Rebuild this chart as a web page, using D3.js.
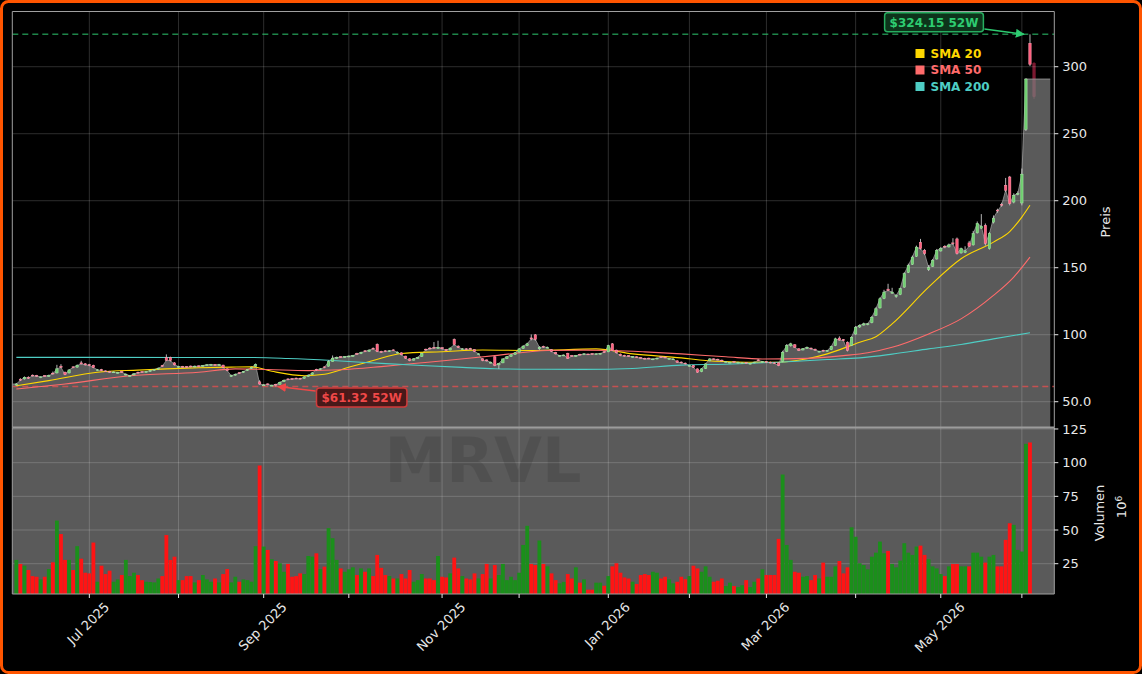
<!DOCTYPE html>
<html>
<head>
<meta charset="utf-8">
<script src="https://cdn.jsdelivr.net/npm/d3@7"></script>
<style>
  html, body { margin: 0; padding: 0; background: #000; }
  svg { display: block; font-family: "DejaVu Sans", sans-serif; }
</style>
</head>
<body>
<svg id="chart" width="1142" height="674"></svg>
<script>
// daily candles, trading-day index 0 = 4 Jun 2025 ... 251 = 4 Jun 2026
const opens = [
  62.4, 66.8, 67.0, 68.3, 69.8, 69.6, 68.0, 69.5, 68.8, 71.3,
  71.5, 76.5, 72.0, 71.5, 76.0, 75.8, 79.0, 78.3, 77.6, 77.2,
  73.4, 74.0, 73.0, 72.6, 71.8, 71.4, 72.5, 70.0, 69.0, 70.0,
  72.0, 72.5, 72.0, 72.6, 73.4, 74.3, 77.0, 83.0, 83.0, 79.0,
  75.8, 76.3, 76.2, 76.6, 76.0, 76.8, 76.4, 77.0, 77.2, 77.8,
  77.1, 77.3, 74.5, 69.0, 69.8, 71.7, 71.8, 73.2, 74.8, 76.5,
  64.8, 62.0, 63.3, 61.8, 63.0, 63.0, 65.0, 67.0, 67.3, 67.6,
  67.5, 67.5, 68.8, 70.2, 74.2, 73.9, 76.0, 76.5, 80.0, 82.3,
  83.6, 83.0, 83.5, 83.9, 86.0, 85.8, 88.0, 87.6, 89.9, 92.8,
  87.6, 88.0, 87.4, 88.7, 86.4, 86.5, 84.0, 82.0, 81.0, 82.2,
  83.8, 89.2, 90.0, 90.6, 89.8, 90.3, 89.0, 88.6, 96.5, 91.5,
  89.0, 89.5, 89.8, 88.8, 85.2, 82.0, 81.2, 79.0, 83.5, 77.5,
  79.0, 82.2, 83.8, 85.3, 87.0, 89.8, 91.8, 97.6, 99.9, 89.5,
  91.3, 90.1, 88.8, 86.8, 84.0, 84.3, 86.1, 84.5, 83.7, 85.4,
  85.1, 85.6, 85.9, 85.2, 85.6, 87.3, 87.2, 93.2, 88.5, 85.5,
  84.6, 84.3, 83.2, 83.5, 83.0, 82.4, 82.5, 81.3, 81.9, 83.6,
  83.3, 81.8, 81.5, 80.5, 79.6, 78.8, 76.5, 77.0, 74.5, 72.5,
  74.8, 80.5, 82.0, 81.7, 81.0, 79.4, 79.0, 80.0, 79.0, 78.6,
  79.2, 78.2, 79.0, 81.2, 79.5, 79.9, 79.5, 79.0, 79.0, 80.0,
  87.5, 91.8, 92.5, 89.5, 88.6, 89.8, 90.0, 89.2, 87.2, 88.4,
  87.6, 88.8, 91.8, 97.5, 96.3, 94.4, 92.0, 100.5, 105.8, 107.2,
  107.5, 109.0, 114.5, 120.0, 127.0, 134.0, 131.0, 128.5, 130.0, 135.5,
  146.5, 152.5, 158.5, 169.0, 163.0, 148.5, 151.0, 156.5, 162.5, 166.0,
  165.5, 168.5, 171.5, 161.0, 161.5, 168.5, 167.0, 176.0, 179.5, 181.6,
  164.2, 184.0, 193.0, 197.2, 211.5, 217.7, 199.0, 204.8, 198.3, 253.2,
  317.5, 302.5
];
const highs = [
  64.0, 67.5, 68.8, 68.9, 70.3, 70.0, 69.0, 69.9, 70.2, 72.5,
  77.5, 78.0, 72.5, 74.2, 76.5, 77.8, 80.5, 78.8, 78.2, 77.6,
  74.3, 74.5, 73.4, 73.0, 72.6, 72.3, 72.9, 71.2, 70.0, 71.2,
  72.4, 72.9, 73.0, 73.6, 74.4, 75.5, 77.5, 85.3, 83.6, 79.5,
  76.8, 76.7, 76.6, 77.0, 76.9, 77.1, 77.4, 78.0, 78.2, 78.1,
  78.2, 77.6, 74.9, 70.2, 71.0, 72.0, 73.0, 74.5, 76.2, 78.5,
  66.0, 63.2, 63.7, 62.8, 63.4, 65.0, 66.5, 67.4, 67.6, 68.0,
  67.9, 69.0, 70.3, 72.0, 74.6, 75.0, 76.4, 81.0, 84.5, 83.6,
  84.0, 84.0, 84.5, 84.9, 86.5, 87.3, 88.5, 89.0, 90.5, 93.5,
  88.0, 88.4, 88.5, 89.0, 87.5, 86.8, 84.3, 82.4, 82.4, 83.5,
  86.5, 89.6, 90.8, 94.5, 95.5, 90.7, 89.4, 90.4, 97.2, 92.0,
  90.0, 89.9, 90.2, 89.1, 86.2, 82.5, 81.5, 80.0, 84.0, 79.0,
  82.3, 84.0, 85.5, 87.0, 89.9, 92.0, 94.0, 100.2, 100.5, 91.5,
  91.8, 91.1, 89.2, 87.2, 84.9, 85.2, 86.5, 84.9, 84.9, 85.8,
  86.1, 85.9, 86.2, 86.0, 86.4, 87.6, 92.5, 93.8, 88.8, 85.9,
  85.0, 84.7, 84.1, 83.9, 83.4, 82.8, 82.9, 82.3, 82.9, 84.0,
  83.7, 82.6, 82.3, 80.9, 80.0, 79.2, 77.5, 77.4, 74.8, 75.0,
  78.7, 82.4, 82.4, 82.1, 81.4, 80.2, 79.8, 80.4, 79.8, 79.4,
  79.6, 79.0, 79.9, 81.6, 80.4, 80.3, 79.9, 79.4, 79.4, 88.0,
  93.0, 94.0, 93.0, 89.9, 90.0, 91.2, 90.4, 89.6, 88.0, 88.8,
  88.6, 91.7, 97.8, 98.8, 96.8, 95.0, 98.8, 106.5, 107.8, 109.0,
  108.8, 114.0, 120.5, 127.8, 133.5, 138.0, 135.0, 130.0, 135.0, 146.5,
  153.0, 159.0, 166.5, 171.5, 164.0, 152.0, 156.5, 164.0, 165.5, 166.8,
  168.0, 172.0, 172.5, 165.0, 166.0, 170.0, 177.5, 184.5, 190.0, 183.0,
  176.5, 189.0, 194.0, 198.5, 217.0, 218.5, 205.5, 207.0, 224.0, 291.5,
  324.15, 303.5
];
const lows = [
  62.0, 65.4, 66.5, 67.0, 68.8, 68.5, 67.6, 68.6, 68.5, 70.2,
  71.0, 75.0, 69.8, 71.0, 75.0, 75.4, 77.8, 77.0, 76.5, 75.0,
  73.0, 72.8, 72.2, 71.6, 71.5, 71.0, 71.6, 69.6, 68.6, 69.7,
  71.0, 71.6, 71.8, 72.3, 73.0, 74.0, 76.0, 80.3, 80.0, 77.0,
  75.4, 75.4, 75.2, 75.6, 75.7, 75.8, 76.1, 76.7, 77.0, 76.8,
  76.8, 75.0, 72.8, 68.5, 69.4, 70.8, 71.5, 72.9, 74.5, 76.2,
  62.6, 61.8, 62.2, 61.6, 61.32, 62.8, 64.8, 66.0, 66.4, 66.8,
  66.6, 67.2, 68.5, 70.0, 73.2, 73.6, 75.0, 76.2, 79.8, 82.0,
  82.6, 82.7, 83.2, 83.6, 85.0, 85.5, 87.0, 87.3, 89.0, 87.0,
  86.5, 87.0, 87.1, 87.8, 86.0, 84.6, 82.0, 80.2, 80.7, 82.0,
  83.5, 88.1, 89.0, 89.6, 89.5, 89.0, 87.8, 88.3, 92.0, 90.0,
  88.7, 88.6, 89.0, 87.0, 84.8, 80.2, 80.0, 78.5, 76.5, 74.5,
  78.7, 81.8, 83.5, 85.0, 86.8, 89.5, 91.5, 95.8, 95.5, 88.5,
  90.3, 89.8, 87.0, 85.3, 83.6, 84.0, 81.9, 83.6, 83.4, 84.6,
  84.8, 84.9, 85.1, 85.0, 85.3, 86.5, 87.0, 87.8, 86.0, 84.0,
  83.6, 83.4, 82.9, 82.6, 82.1, 81.5, 81.6, 81.0, 81.6, 82.7,
  82.4, 81.5, 81.2, 79.0, 78.6, 77.8, 76.1, 75.2, 71.5, 72.0,
  74.5, 80.2, 81.1, 80.8, 80.1, 79.0, 78.6, 79.2, 78.7, 78.3,
  78.4, 77.9, 78.7, 80.3, 79.2, 79.0, 78.6, 78.1, 76.5, 79.5,
  87.0, 91.0, 90.2, 87.8, 88.3, 89.5, 89.0, 88.1, 86.8, 87.4,
  87.3, 88.5, 91.5, 95.6, 95.2, 87.5, 91.5, 100.0, 105.0, 106.8,
  107.0, 108.5, 114.0, 119.5, 126.5, 132.5, 130.5, 127.5, 129.5, 135.0,
  146.0, 152.0, 158.0, 163.5, 159.5, 147.5, 150.5, 156.0, 162.0, 164.5,
  165.0, 167.0, 159.8, 160.5, 160.8, 165.5, 166.5, 175.5, 179.0, 166.5,
  163.5, 183.0, 191.0, 195.5, 206.5, 196.5, 198.0, 204.0, 196.5, 252.0,
  300.5, 276.0
];
const closes = [
  63.2, 66.0, 68.2, 67.5, 69.4, 69.0, 68.5, 69.0, 69.5, 70.7,
  74.5, 75.7, 70.2, 73.7, 75.5, 77.0, 78.2, 77.5, 77.0, 75.5,
  73.8, 73.2, 72.5, 72.0, 72.2, 71.8, 72.0, 70.5, 69.4, 70.8,
  71.5, 72.0, 72.5, 73.2, 74.0, 75.0, 76.5, 80.8, 80.7, 77.5,
  76.2, 75.8, 75.7, 76.0, 76.5, 76.2, 77.0, 77.5, 77.7, 77.2,
  77.7, 75.5, 73.2, 69.4, 70.5, 71.2, 72.5, 74.0, 75.7, 77.7,
  63.2, 62.5, 62.8, 62.2, 62.6, 64.5, 66.0, 66.5, 66.8, 67.2,
  67.0, 68.5, 69.8, 71.5, 73.7, 74.5, 75.5, 80.0, 82.5, 83.1,
  83.0, 83.6, 84.0, 84.4, 85.5, 86.8, 87.4, 88.5, 89.4, 87.5,
  86.9, 87.5, 88.0, 88.2, 86.9, 85.0, 82.5, 80.7, 82.0, 83.1,
  86.0, 88.6, 89.5, 90.0, 90.6, 89.5, 88.2, 90.0, 92.6, 90.5,
  89.4, 89.0, 89.4, 87.5, 85.7, 80.7, 80.5, 79.4, 77.0, 78.5,
  81.9, 83.5, 85.0, 86.5, 89.4, 91.5, 93.2, 96.9, 96.5, 90.6,
  90.8, 90.6, 87.5, 85.7, 84.4, 84.8, 82.4, 84.0, 84.4, 85.0,
  85.7, 85.2, 85.5, 85.7, 86.0, 86.9, 91.9, 88.2, 86.5, 84.4,
  84.0, 83.8, 83.7, 83.0, 82.5, 81.9, 82.0, 81.9, 82.5, 83.1,
  82.8, 82.2, 81.9, 79.4, 79.0, 78.2, 77.0, 75.7, 72.0, 74.5,
  78.2, 81.9, 81.5, 81.2, 80.5, 79.8, 79.4, 79.6, 79.4, 79.0,
  78.8, 78.6, 79.5, 80.7, 80.0, 79.4, 79.0, 78.5, 77.0, 86.9,
  91.9, 93.2, 90.6, 88.2, 89.5, 90.6, 89.4, 88.5, 87.6, 87.8,
  88.2, 91.2, 96.9, 96.0, 95.6, 88.2, 98.1, 105.6, 107.0, 108.1,
  108.1, 113.0, 119.3, 126.8, 131.8, 133.0, 131.8, 129.3, 134.3, 145.5,
  151.7, 157.9, 165.4, 164.2, 160.5, 150.0, 155.5, 163.0, 164.2, 165.4,
  167.0, 167.9, 160.5, 164.2, 162.5, 166.0, 175.4, 182.9, 181.0, 168.0,
  175.4, 187.0, 192.3, 196.6, 207.8, 197.8, 204.0, 205.3, 219.8, 290.8,
  301.8, 277.6
];
// volume in millions (the last, still-open session has no bar)
const volumes = [
  27.8, 24.8, 23.5, 20.3, 15.8, 15.3, 13.3, 15.3, 21.0, 26.0,
  57.0, 47.0, 27.8, 27.8, 20.3, 38.0, 28.7, 18.3, 17.8, 40.7,
  11.6, 23.5, 17.3, 19.8, 11.6, 13.3, 16.6, 27.8, 15.8, 18.3,
  16.6, 12.8, 11.6, 11.4, 11.1, 14.0, 15.8, 46.3, 27.8, 30.2,
  12.8, 12.8, 15.8, 15.8, 11.1, 12.8, 16.6, 13.3, 11.6, 14.0,
  11.1, 17.3, 21.0, 11.1, 15.3, 11.6, 13.3, 12.8, 11.6, 38.0,
  97.9, 37.7, 35.2, 28.3, 27.0, 25.3, 19.0, 24.8, 15.3, 15.8,
  17.8, 17.3, 30.7, 30.2, 32.7, 21.0, 22.8, 51.4, 43.9, 27.8,
  21.5, 19.0, 20.8, 22.3, 16.6, 21.5, 19.0, 21.5, 15.8, 31.5,
  21.9, 16.6, 15.8, 14.0, 14.0, 17.3, 14.0, 20.3, 11.6, 12.8,
  17.3, 14.0, 14.0, 12.8, 30.7, 15.3, 14.8, 17.8, 29.5, 21.5,
  15.8, 14.0, 13.3, 17.8, 14.0, 17.3, 24.8, 14.0, 24.0, 16.6,
  24.8, 12.8, 15.3, 12.8, 18.3, 38.9, 53.1, 24.8, 24.0, 42.2,
  24.8, 23.0, 17.8, 12.8, 10.4, 11.5, 17.3, 14.0, 22.3, 10.9,
  13.3, 5.7, 5.7, 10.9, 10.9, 8.6, 15.8, 23.0, 25.3, 18.3,
  14.8, 14.0, 11.6, 9.9, 16.6, 17.3, 16.6, 19.0, 18.3, 14.0,
  15.3, 13.3, 10.4, 11.6, 15.3, 13.5, 15.8, 23.5, 21.5, 19.0,
  23.0, 15.3, 11.6, 12.3, 14.0, 8.4, 10.9, 8.4, 7.6, 9.0,
  12.8, 7.6, 11.6, 14.0, 20.8, 16.6, 16.6, 16.6, 43.4, 91.2,
  38.9, 27.8, 19.0, 18.3, 15.3, 15.8, 12.8, 16.6, 14.0, 25.8,
  15.3, 15.3, 23.0, 27.0, 17.8, 22.3, 52.0, 45.0, 25.3, 24.0,
  20.8, 30.2, 33.2, 41.4, 32.7, 34.5, 24.8, 22.3, 27.3, 40.2,
  33.2, 31.5, 37.7, 38.4, 31.5, 28.3, 23.0, 21.5, 17.3, 15.8,
  23.0, 24.8, 24.8, 23.0, 23.0, 23.0, 33.2, 33.2, 30.2, 25.8,
  30.2, 31.5, 23.0, 23.0, 42.7, 55.0, 53.8, 35.2, 34.0, 114.0,
  115.0
];

// moving averages at these trading-day indices
const sma20Idx = [0, 8, 20, 30, 37, 45, 53, 58, 63, 71, 76, 82, 88, 95, 105, 115, 127, 143, 152, 164, 170, 180, 188, 195, 200, 208, 212, 216, 225, 233, 241, 245, 248, 250];
const sma20Val = [61.9, 65.7, 72.0, 73.6, 74.5, 75.3, 75.8, 76.0, 72.7, 69.4, 70.5, 75.7, 80.7, 86.0, 87.3, 88.6, 88.2, 89.4, 85.7, 82.7, 80.7, 79.5, 79.4, 82.0, 85.7, 94.4, 98.5, 108.1, 135.5, 156.7, 169.1, 177.0, 187.8, 196.6];
const sma50Idx = [0, 12, 28, 45, 54, 62, 72, 80, 90, 98, 106, 118, 131, 140, 147, 155, 164, 175, 184, 195, 204, 210, 216, 225, 233, 241, 246, 250];
const sma50Val = [59.5, 63.2, 69.4, 72.0, 74.5, 74.0, 73.2, 73.8, 76.2, 78.5, 80.7, 84.4, 88.2, 88.5, 88.2, 87.2, 85.7, 83.5, 81.9, 82.3, 84.4, 86.5, 90.6, 100.6, 111.8, 129.3, 143.0, 157.9];
const sma200Idx = [0, 20, 40, 57, 67, 78, 90, 100, 110, 118, 130, 140, 152, 164, 175, 188, 200, 208, 216, 225, 233, 241, 250];
const sma200Val = [83.1, 83.1, 83.0, 83.0, 82.2, 80.7, 78.6, 77.0, 75.6, 74.6, 74.2, 74.1, 74.8, 77.3, 78.0, 79.5, 81.5, 82.7, 85.5, 89.4, 92.7, 96.9, 101.4];

// first trading day of each month (Jul 2025 .. Jun 2026)
const monthIdx = [18, 40, 61, 82, 105, 124, 146, 166, 185, 207, 228, 248];
const monthLabels = ["Jul 2025", "", "Sep 2025", "", "Nov 2025", "", "Jan 2026", "", "Mar 2026", "", "May 2026", ""];
const priceTicks = [50, 100, 150, 200, 250, 300];
const priceTickLabels = ["50.0", "100", "150", "200", "250", "300"];
const volTicks = [25, 50, 75, 100, 125];

const ticker = "MRVL";
const smaNames = ["SMA 20", "SMA 50", "SMA 200"];
const smaColors = ["#FFD700", "#FF6B6B", "#4ECDC4"];

const svg = d3.select("#chart");

// panels
const left = 12.3, right = 1054.3;
const pTop = 11.5, pBottom = 427.5, vBottom = 594;

const x = d3.scaleLinear().domain([-1, 256]).range([left, right]);
const yP = d3.scaleLinear().domain([30.75, 341.2]).range([pBottom, pTop]);
const yV = d3.scaleLinear().domain([2.5, 126.1]).range([vBottom, pBottom]);

const lastBar = volumes.length - 1;       // last completed session
const openBar = closes.length - 1;        // session still running

// figure background + orange frame
svg.append("rect")
  .attr("x", 1.5).attr("y", 1.5)
  .attr("width", 1139).attr("height", 671)
  .attr("rx", 7)
  .attr("fill", "#000")
  .attr("stroke", "#ff5500")
  .attr("stroke-width", 3);

const defs = svg.append("defs");
defs.append("clipPath").attr("id", "clipP")
  .append("rect").attr("x", left).attr("y", pTop).attr("width", right - left).attr("height", pBottom - pTop);
defs.append("clipPath").attr("id", "clipV")
  .append("rect").attr("x", left).attr("y", pBottom).attr("width", right - left).attr("height", vBottom - pBottom);

["#2ecc71", "#f04848"].forEach((c, i) => {
  defs.append("marker")
    .attr("id", "arrow" + i)
    .attr("viewBox", "0 0 10 10")
    .attr("refX", 9).attr("refY", 5)
    .attr("markerWidth", 6).attr("markerHeight", 6)
    .attr("orient", "auto")
    .append("path")
    .attr("d", "M0,0 L10,5 L0,10 z")
    .attr("fill", c);
});

// volume panel background
svg.append("rect")
  .attr("x", left).attr("y", pBottom)
  .attr("width", right - left).attr("height", vBottom - pBottom)
  .attr("fill", "#5a5a5a");

const gP = svg.append("g").attr("clip-path", "url(#clipP)");
const gV = svg.append("g").attr("clip-path", "url(#clipV)");

function drawCandle(g, i, up, down, wick) {
  const o = opens[i], c = closes[i];
  const col = c >= o ? up : down;
  g.append("line")
    .attr("x1", x(i)).attr("x2", x(i))
    .attr("y1", yP(highs[i])).attr("y2", yP(lows[i]))
    .attr("stroke", wick)
    .attr("stroke-width", 0.9);
  const top = yP(Math.max(o, c)), bot = yP(Math.min(o, c));
  g.append("rect")
    .attr("x", x(i) - 1.2)
    .attr("y", top)
    .attr("width", 2.4)
    .attr("height", Math.max(0.8, bot - top))
    .attr("fill", col.fill)
    .attr("stroke", col.edge)
    .attr("stroke-width", 0.5);
}
// the running session sits behind the area fill, dimmed
const dim = { fill: "#7a1830", edge: "#8e2038" };
drawCandle(gP, openBar, dim, dim, "#7a1830");

// close area
const areaPts = [[-1, closes[0]]];
for (let i = 0; i <= lastBar - 1; i++) areaPts.push([i, closes[i]]);
areaPts.push([lastBar, closes[lastBar - 1]]);
areaPts.push([255, closes[lastBar - 1]]);

gP.append("path")
  .datum(areaPts)
  .attr("d", d3.area().x(d => x(d[0])).y0(pBottom).y1(d => yP(d[1])))
  .attr("fill", "#808080")
  .attr("fill-opacity", 0.7);
gP.append("path")
  .datum(areaPts)
  .attr("d", d3.line().x(d => x(d[0])).y(d => yP(d[1])))
  .attr("fill", "none")
  .attr("stroke", "#9a9a9a")
  .attr("stroke-width", 0.8);

// grid
const gridCol = "rgba(255,255,255,0.2)";
priceTicks.forEach(t => {
  gP.append("line").attr("x1", left).attr("x2", right)
    .attr("y1", yP(t)).attr("y2", yP(t))
    .attr("stroke", gridCol).attr("stroke-width", 0.9);
});
volTicks.forEach(t => {
  gV.append("line").attr("x1", left).attr("x2", right)
    .attr("y1", yV(t)).attr("y2", yV(t))
    .attr("stroke", gridCol).attr("stroke-width", 0.9);
});
monthIdx.forEach(m => {
  [[pTop, pBottom, gP], [pBottom, vBottom, gV]].forEach(([a, b, g]) => {
    g.append("line").attr("x1", x(m)).attr("x2", x(m))
      .attr("y1", a).attr("y2", b)
      .attr("stroke", gridCol).attr("stroke-width", 0.9);
  });
});

// 52 week high / low
const hi52 = d3.max(highs), lo52 = d3.min(lows);
const hiIdx = highs.indexOf(hi52), loIdx = lows.indexOf(lo52);
gP.append("line").attr("x1", left).attr("x2", right)
  .attr("y1", yP(hi52)).attr("y2", yP(hi52))
  .attr("stroke", "#2ecc71").attr("stroke-opacity", 0.65)
  .attr("stroke-width", 1.5).attr("stroke-dasharray", "6,4");
gP.append("line").attr("x1", left).attr("x2", right)
  .attr("y1", yP(lo52)).attr("y2", yP(lo52))
  .attr("stroke", "#ff4d4d").attr("stroke-opacity", 0.65)
  .attr("stroke-width", 1.5).attr("stroke-dasharray", "6,4");

// moving averages
const smaLine = d3.line().x(d => x(d[0])).y(d => yP(d[1])).curve(d3.curveMonotoneX);
[[sma20Idx, sma20Val], [sma50Idx, sma50Val], [sma200Idx, sma200Val]].forEach(([idx, val], k) => {
  gP.append("path")
    .datum(idx.map((d, j) => [d, val[j]]))
    .attr("d", smaLine)
    .attr("fill", "none")
    .attr("stroke", smaColors[k])
    .attr("stroke-width", 1.1);
});

// candles
for (let i = 0; i <= lastBar; i++) {
  drawCandle(gP, i, { fill: "#6fcf6f", edge: "#a6e8a6" }, { fill: "#ff5f7e", edge: "#ff9db0" }, "#c8c8c8");
}

// volume bars
gV.selectAll("rect.vol")
  .data(volumes)
  .enter()
  .append("rect")
  .attr("class", "vol")
  .attr("x", (d, i) => x(i) - 1.9)
  .attr("width", 3.8)
  .attr("y", d => yV(d))
  .attr("height", d => yV(0) - yV(d))
  .attr("fill", (d, i) => closes[i] >= opens[i] ? "#1b8f1b" : "#ff1414");

// watermark
gV.append("text")
  .attr("x", 483).attr("y", 482)
  .attr("text-anchor", "middle")
  .style("font-size", "62px")
  .style("font-weight", "bold")
  .attr("fill", "#000")
  .attr("fill-opacity", 0.1)
  .text(ticker);

// spines
const spine = "#a0a0a0";
svg.append("path")
  .attr("d", `M${left},${pBottom} V${pTop} H${right} V${pBottom}`)
  .attr("fill", "none").attr("stroke", spine).attr("stroke-width", 1);
svg.append("path")
  .attr("d", `M${left},${pBottom} V${vBottom} H${right} V${pBottom}`)
  .attr("fill", "none").attr("stroke", spine).attr("stroke-width", 1);
svg.append("line")
  .attr("x1", left).attr("x2", right)
  .attr("y1", pBottom).attr("y2", pBottom)
  .attr("stroke", "#9c9c9c").attr("stroke-width", 2);

// right axes
const txtCol = "#e8e8e8";
priceTicks.forEach((t, k) => {
  svg.append("line").attr("x1", right).attr("x2", right + 4)
    .attr("y1", yP(t)).attr("y2", yP(t)).attr("stroke", txtCol);
  svg.append("text").attr("x", right + 8).attr("y", yP(t))
    .attr("dy", "0.35em").attr("fill", txtCol)
    .style("font-size", "13px").text(priceTickLabels[k]);
});
volTicks.forEach(t => {
  svg.append("line").attr("x1", right).attr("x2", right + 4)
    .attr("y1", yV(t)).attr("y2", yV(t)).attr("stroke", txtCol);
  svg.append("text").attr("x", right + 8).attr("y", yV(t))
    .attr("dy", "0.35em").attr("fill", txtCol)
    .style("font-size", "13px").text(t);
});
svg.append("text")
  .attr("transform", "translate(1110,222) rotate(-90)")
  .attr("text-anchor", "middle").attr("fill", txtCol)
  .style("font-size", "13px").text("Preis");
svg.append("text")
  .attr("transform", "translate(1104,513) rotate(-90)")
  .attr("text-anchor", "middle").attr("fill", txtCol)
  .style("font-size", "13px").text("Volumen");
const exp = svg.append("text")
  .attr("transform", "translate(1126,507) rotate(-90)")
  .attr("text-anchor", "middle").attr("fill", txtCol)
  .style("font-size", "13px");
exp.append("tspan").text("10");
exp.append("tspan").attr("dy", "-0.45em").style("font-size", "9px").text("6");

// x axis (month ticks, every other one labelled)
monthIdx.forEach((m, k) => {
  svg.append("line").attr("x1", x(m)).attr("x2", x(m))
    .attr("y1", vBottom).attr("y2", vBottom + 4).attr("stroke", txtCol);
  if (!monthLabels[k]) return;
  const t = svg.append("text")
    .attr("text-anchor", "middle")
    .attr("dominant-baseline", "central")
    .attr("fill", txtCol)
    .style("font-size", "13px")
    .text(monthLabels[k]);
  const w = t.node().getComputedTextLength();
  t.attr("transform", `translate(${x(m) - 1},${600 + (w + 13) * 0.354}) rotate(-45)`);
});

// annotation boxes
function tag(label, cx, cy, col, bg, stroke) {
  const t = svg.append("text")
    .attr("x", cx).attr("y", cy)
    .attr("text-anchor", "middle").attr("dy", "0.36em")
    .attr("fill", col)
    .style("font-size", "12px").style("font-weight", "bold")
    .text(label);
  const w = t.node().getComputedTextLength();
  svg.insert("rect", () => t.node())
    .attr("x", cx - w / 2 - 5).attr("y", cy - 9.5)
    .attr("width", w + 10).attr("height", 19)
    .attr("rx", 3)
    .attr("fill", bg).attr("stroke", stroke).attr("stroke-width", 1.5);
  return w;
}
const hiLabel = "$" + hi52.toFixed(2) + " 52W";
const loLabel = "$" + lo52.toFixed(2) + " 52W";
const wHi = tag(hiLabel, 934, 22.2, "#2ecc71", "rgba(14,58,30,0.9)", "#27ae60");
svg.append("line")
  .attr("x1", 934 + wHi / 2 + 6).attr("y1", 29)
  .attr("x2", x(hiIdx) - 6).attr("y2", yP(hi52))
  .attr("stroke", "#2ecc71").attr("stroke-width", 1.5)
  .attr("marker-end", "url(#arrow0)");
const wLo = tag(loLabel, 361.7, 397.5, "#f04848", "rgba(70,18,18,0.9)", "#d03a3a");
svg.append("line")
  .attr("x1", 361.7 - wLo / 2 - 6).attr("y1", 391)
  .attr("x2", x(loIdx) + 2).attr("y2", yP(lo52))
  .attr("stroke", "#f04848").attr("stroke-width", 1.5)
  .attr("marker-end", "url(#arrow1)");

// legend
smaNames.forEach((n, k) => {
  const cy = 53.5 + k * 16.5;
  svg.append("rect").attr("x", 915.5).attr("y", cy - 4.5)
    .attr("width", 9).attr("height", 9).attr("fill", smaColors[k]);
  svg.append("text").attr("x", 930.5).attr("y", cy)
    .attr("dy", "0.36em").attr("fill", smaColors[k])
    .style("font-size", "12px").style("font-weight", "bold")
    .text(n);
});
</script>
</body>
</html>
